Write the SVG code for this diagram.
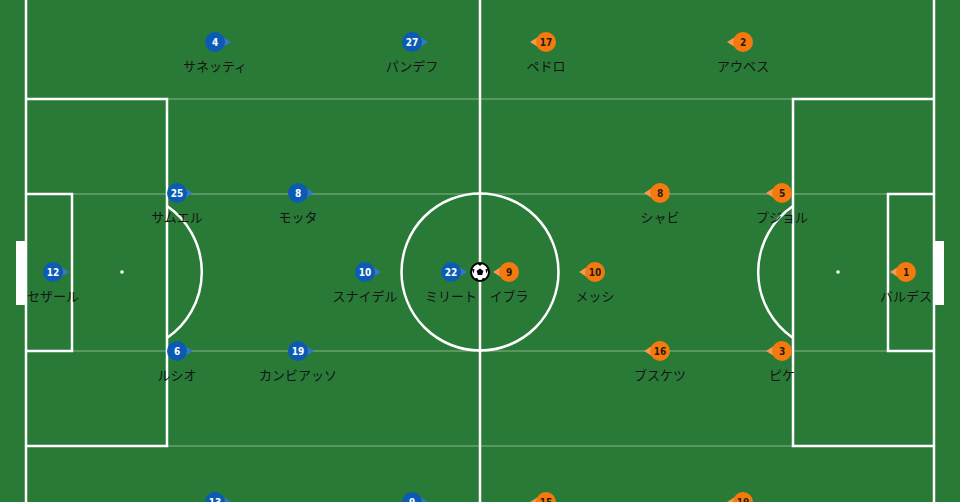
<svg xmlns="http://www.w3.org/2000/svg" width="960" height="502" viewBox="0 0 960 502">
<defs>
<style>
.line{fill:none;stroke:#fff;stroke-width:2.5}
.faint{fill:none;stroke:#fff;stroke-opacity:0.22;stroke-width:2}
.spot{fill:#fff}
.goal{fill:#fff}
.blue circle{fill:#0b5bb4}
.blue path{fill:#2f79c6}
.orange circle{fill:#f47a0f}
.orange path{fill:#f59a4e}
.num{font-family:"DejaVu Sans Condensed","Liberation Sans Narrow","DejaVu Sans",sans-serif;font-stretch:condensed;font-weight:bold;font-size:10px;text-anchor:middle}
.blue .num{fill:#fff}
.orange .num{fill:#2a1a0a}
.name{font-family:"Noto Sans CJK JP","Noto Sans",sans-serif;font-size:13px;fill:#141414;text-anchor:middle}
</style>
</defs>
<rect x="0" y="0" width="960" height="502" fill="#2a7a37"/>
<g id="pitch">
<line class="faint" x1="26" y1="99" x2="934" y2="99"/>
<line class="faint" x1="26" y1="194" x2="934" y2="194"/>
<line class="faint" x1="26" y1="351" x2="934" y2="351"/>
<line class="faint" x1="26" y1="446" x2="934" y2="446"/>
<line class="line" x1="26" y1="-5" x2="26" y2="507"/>
<line class="line" x1="934" y1="-5" x2="934" y2="507"/>
<line class="line" x1="480" y1="-5" x2="480" y2="507"/>
<circle class="line" cx="480" cy="272" r="78.5"/>
<path class="line" d="M26,99 H167 V446 H26"/>
<path class="line" d="M26,194 H72 V351 H26"/>
<path class="line" d="M167,206 A80,80 0 0 1 167,338"/>
<path class="line" d="M934,99 H793 V446 H934"/>
<path class="line" d="M934,194 H888 V351 H934"/>
<path class="line" d="M793,206 A80,80 0 0 0 793,338"/>
<circle class="spot" cx="122" cy="272" r="1.8"/>
<circle class="spot" cx="838" cy="272" r="1.8"/>
<rect class="goal" x="16" y="241" width="10" height="64"/>
<rect class="goal" x="934" y="241" width="10" height="64"/>
</g>
<g id="connectors"></g>
<g id="p-b4" class="blue" transform="translate(215,42)"><path d="M8,-5 L16,0 L8,5 Z"/><circle r="10"/><text class="num" y="3.6">4</text><text class="name" y="29">サネッティ</text></g>
<g id="p-b27" class="blue" transform="translate(412,42)"><path d="M8,-5 L16,0 L8,5 Z"/><circle r="10"/><text class="num" y="3.6">27</text><text class="name" y="29">パンデフ</text></g>
<g id="p-b25" class="blue" transform="translate(177,193)"><path d="M8,-5 L16,0 L8,5 Z"/><circle r="10"/><text class="num" y="3.6">25</text><text class="name" y="29">サムエル</text></g>
<g id="p-b8" class="blue" transform="translate(298,193)"><path d="M8,-5 L16,0 L8,5 Z"/><circle r="10"/><text class="num" y="3.6">8</text><text class="name" y="29">モッタ</text></g>
<g id="p-b12" class="blue" transform="translate(53,272)"><path d="M8,-5 L16,0 L8,5 Z"/><circle r="10"/><text class="num" y="3.6">12</text><text class="name" y="29">セザール</text></g>
<g id="p-b10" class="blue" transform="translate(365,272)"><path d="M8,-5 L16,0 L8,5 Z"/><circle r="10"/><text class="num" y="3.6">10</text><text class="name" y="29">スナイデル</text></g>
<g id="p-b22" class="blue" transform="translate(451,272)"><path d="M8,-5 L16,0 L8,5 Z"/><circle r="10"/><text class="num" y="3.6">22</text><text class="name" y="29">ミリート</text></g>
<g id="p-b6" class="blue" transform="translate(177,351)"><path d="M8,-5 L16,0 L8,5 Z"/><circle r="10"/><text class="num" y="3.6">6</text><text class="name" y="29">ルシオ</text></g>
<g id="p-b19" class="blue" transform="translate(298,351)"><path d="M8,-5 L16,0 L8,5 Z"/><circle r="10"/><text class="num" y="3.6">19</text><text class="name" y="29">カンビアッソ</text></g>
<g id="p-b13" class="blue" transform="translate(215,502)"><path d="M8,-5 L16,0 L8,5 Z"/><circle r="10"/><text class="num" y="3.6">13</text></g>
<g id="p-b9" class="blue" transform="translate(412,502)"><path d="M8,-5 L16,0 L8,5 Z"/><circle r="10"/><text class="num" y="3.6">9</text></g>
<g id="p-o17" class="orange" transform="translate(546,42)"><path d="M-8,-5 L-16,0 L-8,5 Z"/><circle r="10"/><text class="num" y="3.6">17</text><text class="name" y="29">ペドロ</text></g>
<g id="p-o2" class="orange" transform="translate(743,42)"><path d="M-8,-5 L-16,0 L-8,5 Z"/><circle r="10"/><text class="num" y="3.6">2</text><text class="name" y="29">アウベス</text></g>
<g id="p-o8" class="orange" transform="translate(660,193)"><path d="M-8,-5 L-16,0 L-8,5 Z"/><circle r="10"/><text class="num" y="3.6">8</text><text class="name" y="29">シャビ</text></g>
<g id="p-o5" class="orange" transform="translate(782,193)"><path d="M-8,-5 L-16,0 L-8,5 Z"/><circle r="10"/><text class="num" y="3.6">5</text><text class="name" y="29">プジョル</text></g>
<g id="p-o9" class="orange" transform="translate(509,272)"><path d="M-8,-5 L-16,0 L-8,5 Z"/><circle r="10"/><text class="num" y="3.6">9</text><text class="name" y="29">イブラ</text></g>
<g id="p-o10" class="orange" transform="translate(595,272)"><path d="M-8,-5 L-16,0 L-8,5 Z"/><circle r="10"/><text class="num" y="3.6">10</text><text class="name" y="29">メッシ</text></g>
<g id="p-o1" class="orange" transform="translate(906,272)"><path d="M-8,-5 L-16,0 L-8,5 Z"/><circle r="10"/><text class="num" y="3.6">1</text><text class="name" y="29">バルデス</text></g>
<g id="p-o16" class="orange" transform="translate(660,351)"><path d="M-8,-5 L-16,0 L-8,5 Z"/><circle r="10"/><text class="num" y="3.6">16</text><text class="name" y="29">ブスケツ</text></g>
<g id="p-o3" class="orange" transform="translate(782,351)"><path d="M-8,-5 L-16,0 L-8,5 Z"/><circle r="10"/><text class="num" y="3.6">3</text><text class="name" y="29">ピケ</text></g>
<g id="p-o15" class="orange" transform="translate(546,502)"><path d="M-8,-5 L-16,0 L-8,5 Z"/><circle r="10"/><text class="num" y="3.6">15</text></g>
<g id="p-o19" class="orange" transform="translate(743,502)"><path d="M-8,-5 L-16,0 L-8,5 Z"/><circle r="10"/><text class="num" y="3.6">19</text></g>
<g id="ball" transform="translate(480,272)">
<circle r="9" fill="#fff" stroke="#000" stroke-width="2"/>
<path d="M0,-3.6 L3.4,-1.1 L2.1,2.9 L-2.1,2.9 L-3.4,-1.1 Z" fill="#000"/>
<path d="M-2.5,-8.6 L2.5,-8.6 L0,-6 Z M8.2,-3.5 L6.6,1.5 L5.4,-2.5 Z M5.6,7 L1.5,8.8 L2.8,5.8 Z M-5.6,7 L-1.5,8.8 L-2.8,5.8 Z M-8.2,-3.5 L-6.6,1.5 L-5.4,-2.5 Z" fill="#000"/>
</g>
</svg>
